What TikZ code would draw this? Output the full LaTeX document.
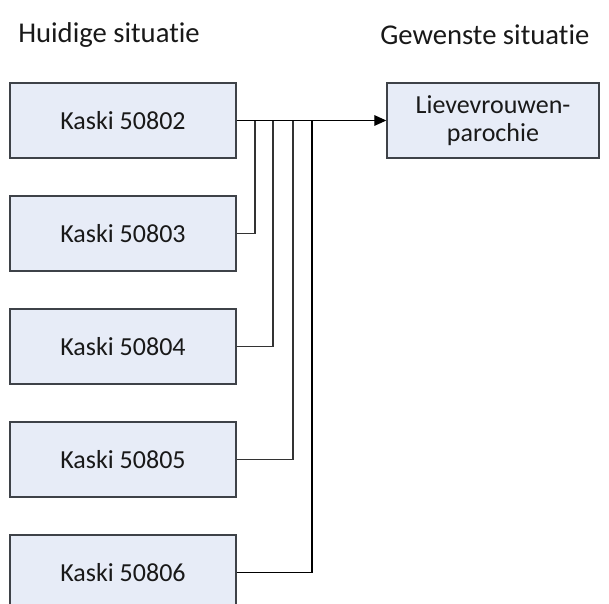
\documentclass[tikz,border=0pt]{standalone}
\usepackage{fontspec}
\setmainfont{Carlito}[Ligatures=NoCommon]
\usetikzlibrary{arrows.meta}
\definecolor{boxfill}{RGB}{231,236,247}
\definecolor{boxline}{RGB}{62,66,72}
\begin{document}
\begin{tikzpicture}[x=0.75pt,y=-0.75pt,
  box/.style={draw=boxline,fill=boxfill,line width=1.1pt,minimum width=169.5pt,minimum height=56.25pt,inner sep=0pt,font=\fontsize{19.5}{23}\selectfont,align=center,text=black!90},
  title/.style={font=\fontsize{21.5}{25}\selectfont,text=black!90,inner sep=0pt},
  link/.style={draw=black!80,line width=0.9pt}]
\useasboundingbox (0,0) rectangle (609,603);
\clip (0,0) rectangle (609,603);
\node[title,anchor=west] (t1) at (18,35) {Huidige situatie};
\node[title,anchor=west] (t2) at (380,35) {Gewenste situatie};
\node[box,minimum width=159pt] (r) at (493,120.5) {Lievevrouwen-\\[-2pt]parochie};
\node[box] (b1) at (123,120.5) {Kaski 50802};
\node[box] (b2) at (123,233.5) {Kaski 50803};
\node[box] (b3) at (123,346.5) {Kaski 50804};
\node[box] (b4) at (123,459.5) {Kaski 50805};
\node[box] (b5) at (123,572.5) {Kaski 50806};
\coordinate (j2) at (255,120.5);
\coordinate (j3) at (273,120.5);
\coordinate (j4) at (293,120.5);
\coordinate (j5) at (312,120.5);
\draw[link,draw=black,-{Triangle[length=9pt,width=8pt]}] (b1.east) -- (r.west);
\draw[link] (b2.east) -| (j2);
\draw[link] (b3.east) -| (j3);
\draw[link] (b4.east) -| (j4);
\draw[link,draw=black] (b5.east) -| (j5);
\end{tikzpicture}
\end{document}
